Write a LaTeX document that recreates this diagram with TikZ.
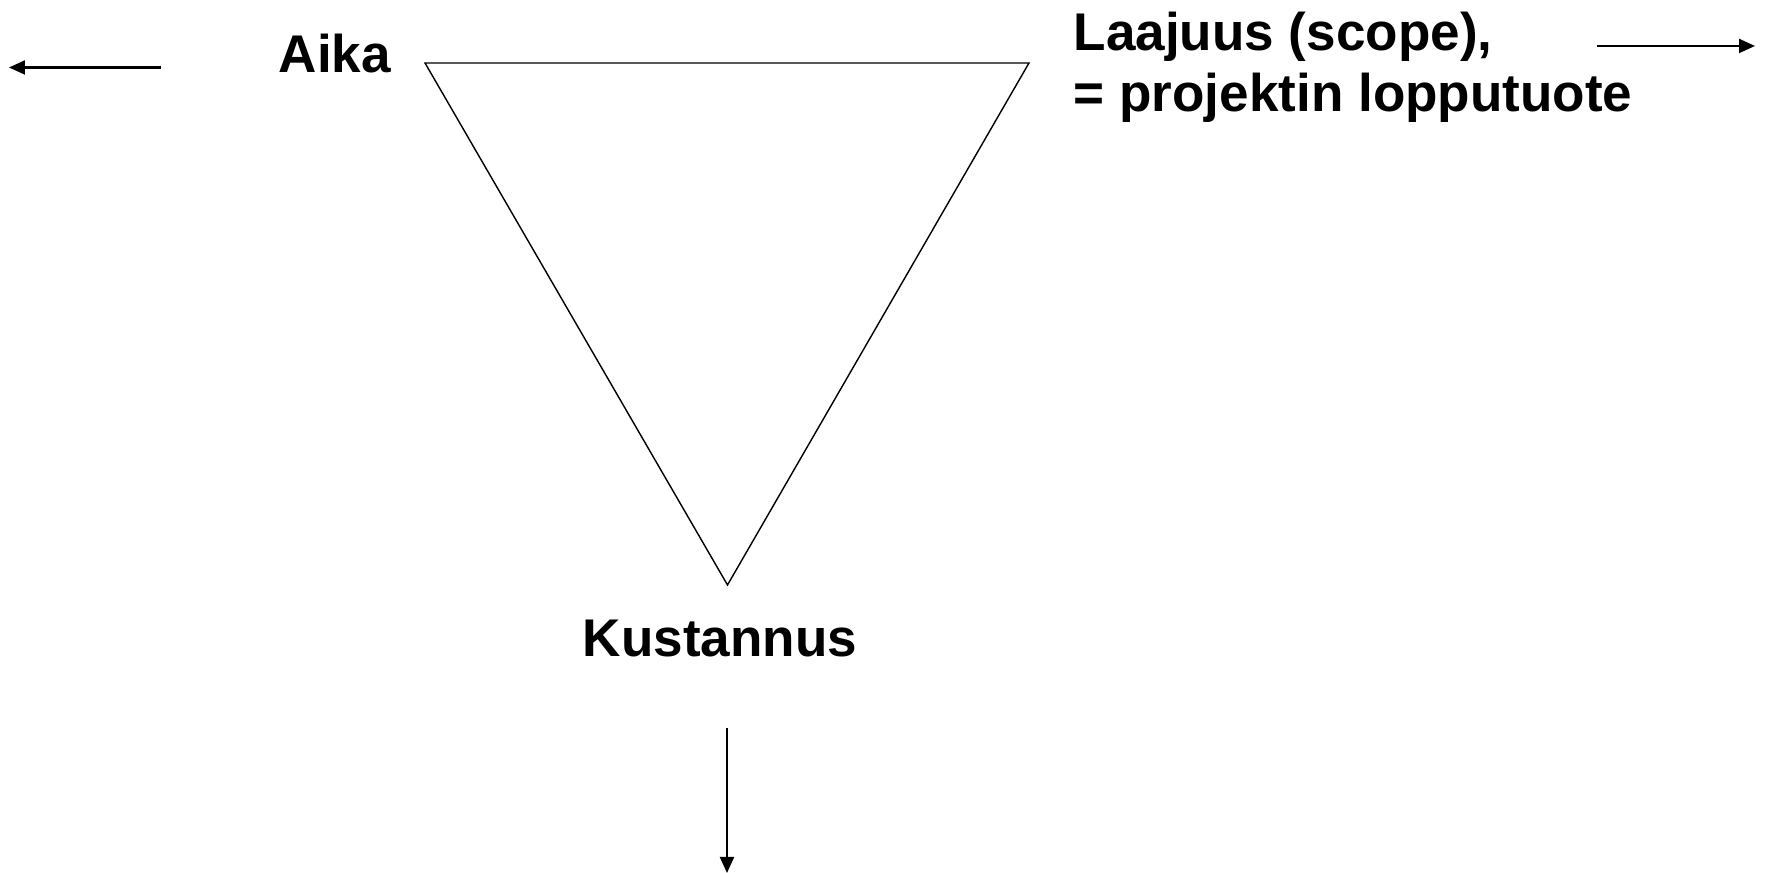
\documentclass[tikz,border=0pt]{standalone}
\usepackage{fontspec}
\setmainfont{Liberation Sans}
\usetikzlibrary{arrows.meta, positioning}

\begin{document}
\begin{tikzpicture}[
    every node/.style={font=\fontsize{15.1}{17.6}\selectfont\bfseries, inner sep=0pt},
    lbl/.style={anchor=base west, align=left},
    edge/.style={line width=0.4pt, line join=miter},
    arr/.style={-{Triangle[length=1.6mm, width=1.4mm]}, line width=0.6pt}
]
    \useasboundingbox (0,0) rectangle (17.66,8.73);

    % triangle corners
    \coordinate (tl) at (4.25, 8.10);
    \coordinate (tr) at (10.29, 8.10);
    \coordinate (bt) at (7.275, 2.88);
    \draw[edge] (tl) -- (tr) -- (bt) -- cycle;

    \node[lbl] (aika) at (2.78, 8.00) {Aika};
    \node[lbl] (laajuus) at (10.73, 7.61)
        {Laajuus (scope),\\ = projektin lopputuote};
    \node[anchor=base] (kustannus) at (7.20, 2.16) {Kustannus};

    % direction arrows
    \coordinate (a1) at (1.61, 8.055);
    \coordinate (a2) at (0.09, 8.055);
    \coordinate (l1) at (15.97, 8.27);
    \coordinate (l2) at (17.55, 8.27);
    \coordinate (k1) at (7.27, 1.45);
    \coordinate (k2) at (7.27, 0.0);
    \draw[arr] (a1) -- (a2);
    \draw[arr] (l1) -- (l2);
    \draw[arr] (k1) -- (k2);
\end{tikzpicture}
\end{document}
